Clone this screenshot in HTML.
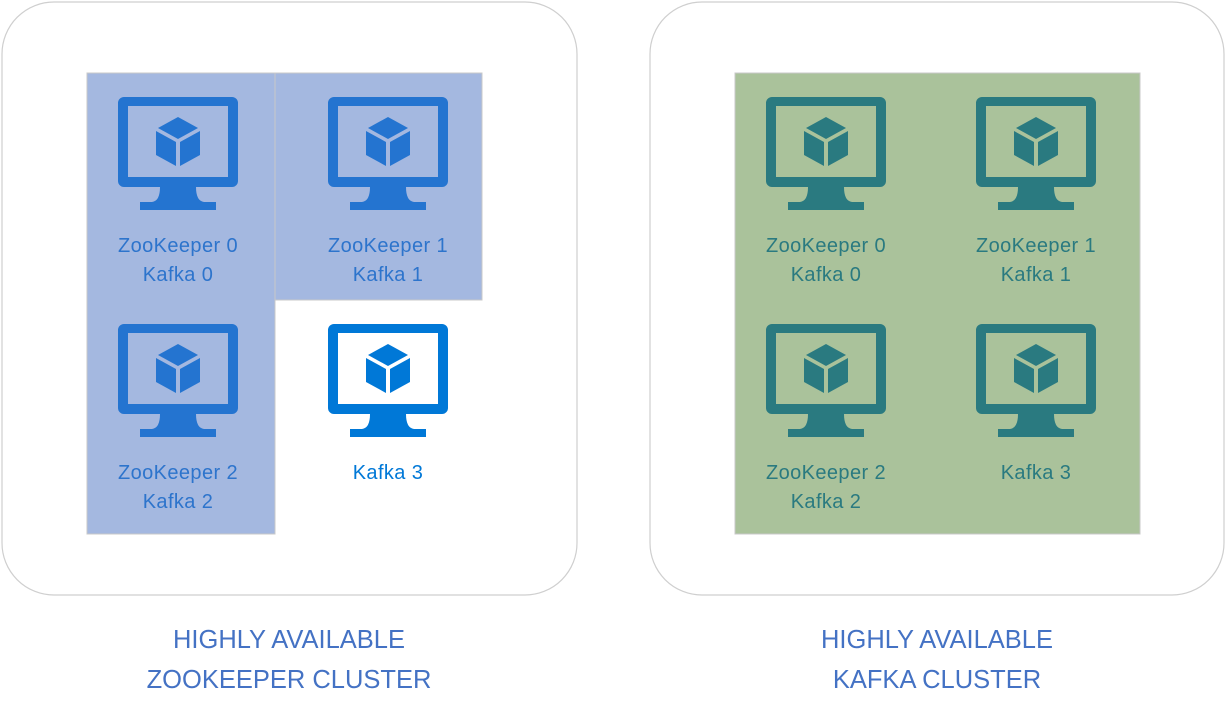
<!DOCTYPE html>
<html><head><meta charset="utf-8"><style>
html,body{margin:0;padding:0;background:#fff;}
svg text{font-family:"Liberation Sans",sans-serif;}
</style></head><body>
<svg width="1226" height="713" viewBox="0 0 1226 713" xmlns="http://www.w3.org/2000/svg">
<defs>
<g id="mon">
<path fill-rule="evenodd" d="M6,0 H114 A6,6 0 0 1 120,6 V84 A6,6 0 0 1 114,90 H6 A6,6 0 0 1 0,84 V6 A6,6 0 0 1 6,0 Z M10,9 V80 H110 V9 Z"/>
<path d="M42,90 H78 Q78,104 86,105 H98 V113 H22 V105 H34 Q42,104 42,90 Z"/>
<polygon points="60,20 80,31 60,42 40,31"/>
<polygon points="38,34 58,45 58,69 38,58"/>
<polygon points="62,45 82,34 82,58 62,69"/>
</g>
</defs>
<rect x="2" y="2" width="575" height="593" rx="52" fill="#fff" stroke="#cfcfcf" stroke-width="1.2"/>
<rect x="650" y="2" width="574" height="593" rx="52" fill="#fff" stroke="#cfcfcf" stroke-width="1.2"/>
<rect x="87" y="73" width="188" height="461" fill="#a4b8e0" stroke="#c8c8c8" stroke-width="1"/>
<rect x="275" y="73" width="207" height="227" fill="#a4b8e0" stroke="#c8c8c8" stroke-width="1"/>
<rect x="735" y="73" width="405" height="461" fill="#aac29b" stroke="#c8c8c8" stroke-width="1"/>
<use href="#mon" x="118" y="97" fill="#2474d0"/>
<use href="#mon" x="328" y="97" fill="#2474d0"/>
<use href="#mon" x="118" y="324" fill="#2474d0"/>
<use href="#mon" x="328" y="324" fill="#0078d7"/>
<use href="#mon" x="766" y="97" fill="#2a7a80"/>
<use href="#mon" x="976" y="97" fill="#2a7a80"/>
<use href="#mon" x="766" y="324" fill="#2a7a80"/>
<use href="#mon" x="976" y="324" fill="#2a7a80"/>
<g font-size="20" letter-spacing="0.4" text-anchor="middle" fill="#2d74cc">
<text x="178" y="252">ZooKeeper 0</text><text x="178" y="281">Kafka 0</text>
<text x="388" y="252">ZooKeeper 1</text><text x="388" y="281">Kafka 1</text>
<text x="178" y="479">ZooKeeper 2</text><text x="178" y="508">Kafka 2</text>
<text x="388" y="479" fill="#0078d7">Kafka 3</text>
</g>
<g font-size="20" letter-spacing="0.4" text-anchor="middle" fill="#2a7a80">
<text x="826" y="252">ZooKeeper 0</text><text x="826" y="281">Kafka 0</text>
<text x="1036" y="252">ZooKeeper 1</text><text x="1036" y="281">Kafka 1</text>
<text x="826" y="479">ZooKeeper 2</text><text x="826" y="508">Kafka 2</text>
<text x="1036" y="479">Kafka 3</text>
</g>
<g font-size="25.5" text-anchor="middle" fill="#4472c4">
<text x="289" y="648">HIGHLY AVAILABLE</text>
<text x="289" y="688">ZOOKEEPER CLUSTER</text>
<text x="937" y="648">HIGHLY AVAILABLE</text>
<text x="937" y="688">KAFKA CLUSTER</text>
</g>
</svg>
</body></html>
